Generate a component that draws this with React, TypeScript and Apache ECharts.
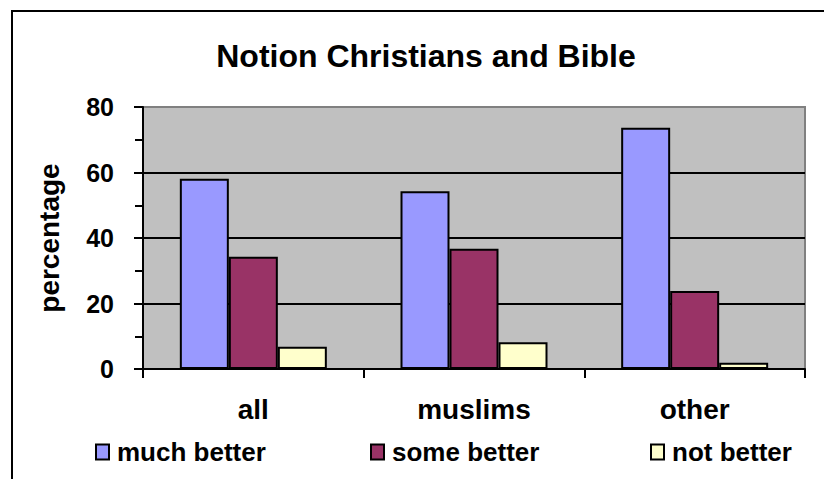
import React, { useEffect, useRef } from "react";
import * as echarts from "echarts";

const categories = ["all", "muslims", "other"];
const seriesNames = ["much better", "some better", "not better"];
const muchBetter = [58.1, 54.3, 73.7];
const someBetter = [34.3, 36.7, 23.8];
const notBetter = [6.8, 8.2, 1.9];
const colors = ["#9999FF", "#993366", "#FFFFCC"];
const yTicks = { min: 0, max: 80, interval: 20 };

const FONT = "'Liberation Sans', Arial, sans-serif";

export default function App() {
  const ref = useRef<HTMLDivElement>(null);
  useEffect(() => {
    if (!ref.current) return;
    const chart = echarts.init(ref.current, null, { renderer: "svg" });
    const values = [muchBetter, someBetter, notBetter];
    const legendLefts = [90, 365, 645];
    chart.setOption({
      animation: false,
      backgroundColor: "#FFFFFF",
      textStyle: { fontFamily: FONT },
      graphic: [
        {
          type: "rect",
          shape: { x: 12, y: 11, width: 900, height: 600 },
          style: { fill: "none", stroke: "#000", lineWidth: 2 },
          silent: true,
        },
        {
          type: "text",
          x: 426,
          y: 40,
          style: {
            text: "Notion Christians and Bible",
            font: "bold 32px " + FONT,
            fill: "#000",
            textAlign: "center",
            textVerticalAlign: "top",
          },
        },
      ],
      grid: {
        left: 143,
        top: 107,
        right: 19,
        bottom: 110,
        show: true,
        backgroundColor: "#C0C0C0",
        borderColor: "#808080",
        borderWidth: 2,
      },
      legend: seriesNames.map((name, i) => ({
        data: [name],
        left: legendLefts[i],
        top: 434,
        itemWidth: 13,
        itemHeight: 15,
        itemGap: 4,
        icon: "rect",
        selectedMode: false,
        textStyle: {
          fontFamily: FONT,
          fontWeight: "bold",
          fontSize: 26,
          color: "#000",
          padding: [0, 0, 0, 3],
        },
        itemStyle: { borderColor: "#000", borderWidth: 2 },
      })),
      xAxis: {
        type: "category",
        data: categories,
        axisLine: { lineStyle: { color: "#000", width: 2 } },
        axisTick: { show: true, length: 9, alignWithLabel: false, lineStyle: { color: "#000", width: 2 } },
        axisLabel: {
          margin: 26,
          color: "#000",
          fontFamily: FONT,
          fontWeight: "bold",
          fontSize: 28,
        },
        splitLine: { show: false },
      },
      yAxis: {
        type: "value",
        min: yTicks.min,
        max: yTicks.max,
        interval: yTicks.interval,
        name: "percentage",
        nameLocation: "middle",
        nameGap: 80,
        nameTextStyle: { color: "#000", fontFamily: FONT, fontWeight: "bold", fontSize: 28 },
        axisLine: { show: true, lineStyle: { color: "#000", width: 2 } },
        axisTick: { show: true, length: 9, lineStyle: { color: "#000", width: 2 } },
        minorTick: { show: true, splitNumber: 2, length: 8, lineStyle: { color: "#000", width: 2 } },
        axisLabel: {
          margin: 29,
          color: "#000",
          fontFamily: FONT,
          fontWeight: "bold",
          fontSize: 25,
        },
        splitLine: {
          show: true,
          showMinLine: false,
          showMaxLine: false,
          lineStyle: { color: "#000", width: 2 },
        },
      },
      series: seriesNames.map((name, i) => ({
        name,
        type: "bar",
        data: values[i],
        barWidth: 49,
        barGap: "0%",
        itemStyle: { color: colors[i], borderColor: "#000", borderWidth: 2 },
      })),
    });
    return () => chart.dispose();
  }, []);
  return (
    <div
      ref={ref}
      style={{ position: "fixed", left: 0, top: 0, width: 824, height: 479 }}
    />
  );
}
